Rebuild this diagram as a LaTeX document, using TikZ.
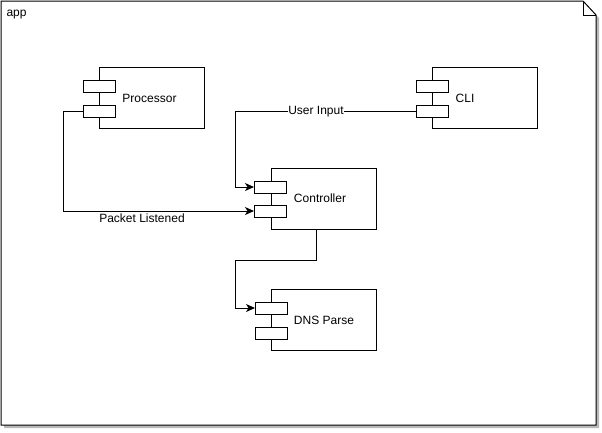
\documentclass[tikz,border=0pt]{standalone}
\usepackage{fontspec}
\setmainfont{Liberation Sans}
\usetikzlibrary{arrows.meta}
\begin{document}
\begin{tikzpicture}[x=1pt,y=-1pt, line width=1pt,
 comp/.style={draw, fill=white, minimum width=105pt, minimum height=61pt, inner sep=0pt},
 port/.style={draw, fill=white, minimum width=32pt, minimum height=12pt, inner sep=0pt},
 lbl/.style={font=\fontsize{12}{14}\selectfont, inner sep=1pt},
 conn/.style={draw, -{Stealth[length=9pt,width=8pt,inset=2.5pt]}},
]
\useasboundingbox (0,0) rectangle (602,432);
% frame with shadow
\fill[gray!55] (4,4) -- (586,4) -- (599,18) -- (599,428) -- (4,428) -- cycle;
\draw[fill=white] (1,1) -- (583,1) -- (596,15) -- (596,425) -- (1,425) -- cycle;
\draw (583,1) -- (583,15) -- (596,15);
\node[lbl, anchor=base west] (app) at (5,16) {app};

% Processor
\node[comp] (proc) at (152,98) {};
\node[lbl] (proc-t) at (149.5,98) {Processor};
\node[port] (proc-p1) at (99,86.5) {};
\node[port] (proc-p2) at (99,111) {};

% CLI
\node[comp] (cli) at (484.5,97.5) {};
\node[lbl] (cli-t) at (465,98) {CLI};
\node[port] (cli-p1) at (432.5,86) {};
\node[port] (cli-p2) at (432.5,111) {};

% Controller
\node[comp] (ctl) at (323.5,198.5) {};
\node[lbl] (ctl-t) at (320,198) {Controller};
\node[port] (ctl-p1) at (270.5,187) {};
\node[port] (ctl-p2) at (270.5,211) {};

% DNS Parse
\node[comp] (dns) at (323.5,320) {};
\node[lbl] (dns-t) at (324,320) {DNS Parse};
\node[port] (dns-p1) at (271.5,308) {};
\node[port] (dns-p2) at (271.5,333) {};

% connectors
\coordinate (c1) at (235,111);
\draw[conn] (cli-p2.west) -- (c1) |- (ctl-p1.west);
\node[lbl, fill=white, inner sep=0.5pt] (ui) at (316,112) {User Input};

\coordinate (c2) at (63,111);
\draw[conn] (proc-p2.west) -- (c2) |- (ctl-p2.west);
\node[lbl] (pl) at (142,218) {Packet Listened};

\coordinate (c3) at (235,260);
\draw[conn] ([xshift=-7.5pt]ctl.south) |- (c3) |- (dns-p1.west);
\end{tikzpicture}
\end{document}
